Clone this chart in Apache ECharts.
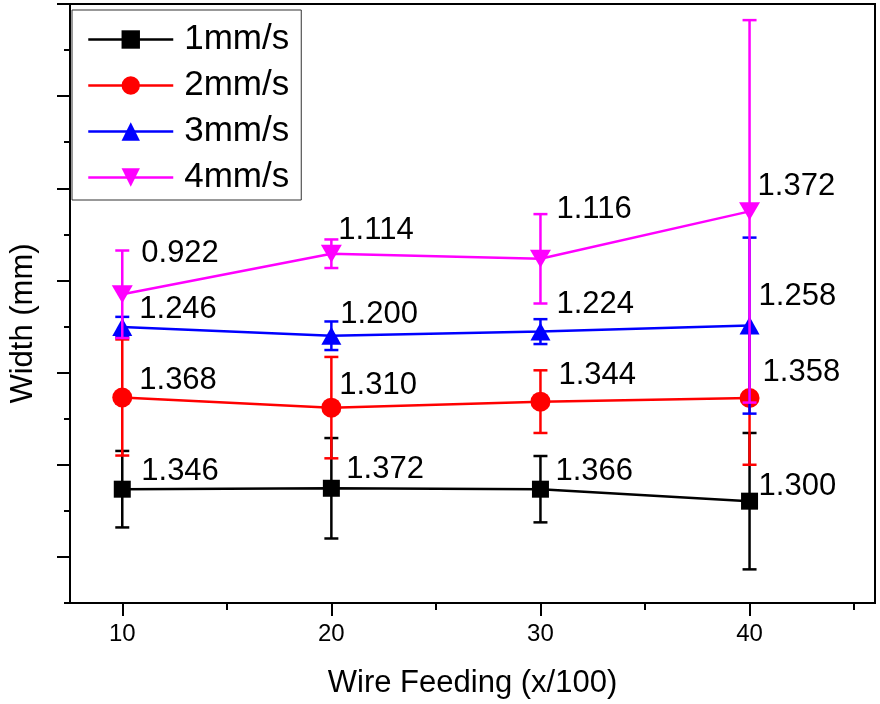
<!DOCTYPE html>
<html><head><meta charset="utf-8">
<script src="https://cdn.jsdelivr.net/npm/echarts@6/dist/echarts.min.js"></script>
<style>html,body{margin:0;padding:0;background:#fff}#c{width:880px;height:704px}</style>
</head><body><div id="c"></div>
<script>
// x categories (wire feeding, x/100)
const feeding = [10, 20, 30, 40];
const seriesNames = ['1mm/s', '2mm/s', '3mm/s', '4mm/s'];
// y values in axis units (the y axis carries no printed scale; 1 unit = one minor tick)
const width1 = [2.47, 2.49, 2.47, 2.21];
const err1   = [0.83, 1.09, 0.72, 1.48];
const width2 = [4.46, 4.24, 4.37, 4.45];
const err2   = [1.26, 1.10, 0.68, 1.45];
const width3 = [5.99, 5.80, 5.89, 6.02];
const err3   = [0.22, 0.31, 0.27, 1.91];
const width4 = [6.70, 7.58, 7.47, 8.50];
const err4   = [0.95, 0.31, 0.97, 4.15];
// annotation texts printed next to each point
const labels1 = ['1.346', '1.372', '1.366', '1.300'];
const labels2 = ['1.368', '1.310', '1.344', '1.358'];
const labels3 = ['1.246', '1.200', '1.224', '1.258'];
const labels4 = ['0.922', '1.114', '1.116', '1.372'];
// tick values
const xTicks = [10, 20, 30, 40];
const xMinorTicks = [15, 25, 35, 45];
const yMajorTicks = [1, 3, 5, 7, 9, 11, 13];
const yMinorTicks = [0, 2, 4, 6, 8, 10, 12];

// label pixel offsets (style only)
const off1 = [[19, -18], [15, -19], [15, -18], [9, -15]];
const off2 = [[17, -17], [8, -22], [18, -26], [13, -26]];
const off3 = [[17, -18], [9, -21], [16, -27], [9, -29]];
const off4 = [[19, -41], [7, -23], [16, -49], [8, -25]];

const FONT = "'Liberation Sans', Arial, sans-serif";

function lineSeries(name, color, ys, labels, offs, symbol, size, rotate, z) {
  return {
    type: 'line', name: name, z: z,
    data: feeding.map((x, i) => ({ value: [x, ys[i]], label: { offset: offs[i] } })),
    symbol: symbol, symbolSize: size, symbolRotate: rotate,
    itemStyle: { color: color }, lineStyle: { color: color, width: 2.5 },
    label: {
      show: true, position: 'inside', align: 'left', verticalAlign: 'middle',
      fontSize: 31, fontFamily: FONT, color: '#000',
      formatter: p => labels[p.dataIndex]
    },
    emphasis: { disabled: true },
    animation: false
  };
}

function errSeries(name, color, ys, es, z) {
  return {
    type: 'custom', name: name, z: z, silent: true, animation: false,
    data: feeding.map((x, i) => [x, ys[i] - es[i], ys[i] + es[i]]),
    encode: { x: 0, y: [1, 2] },
    renderItem: function (params, api) {
      const x = api.value(0);
      const lo = api.coord([x, api.value(1)]);
      const hi = api.coord([x, api.value(2)]);
      const hw = 7;
      const st = { stroke: color, lineWidth: 2.5 };
      return {
        type: 'group', children: [
          { type: 'line', shape: { x1: lo[0], y1: lo[1], x2: hi[0], y2: hi[1] }, style: st },
          { type: 'line', shape: { x1: lo[0] - hw, y1: lo[1], x2: lo[0] + hw, y2: lo[1] }, style: st },
          { type: 'line', shape: { x1: hi[0] - hw, y1: hi[1], x2: hi[0] + hw, y2: hi[1] }, style: st }
        ]
      };
    }
  };
}

const chart = echarts.init(document.getElementById('c'), null, { renderer: 'canvas' });
chart.setOption({
  backgroundColor: '#fff',
  animation: false,
  textStyle: { fontFamily: FONT },
  grid: { left: 66, right: 5, top: 4, bottom: 101, show: true, borderColor: '#000', borderWidth: 2, backgroundColor: 'transparent' },
  legend: {
    left: 72, top: 10, orient: 'vertical',
    itemWidth: 85, itemHeight: 23, itemGap: 11,
    padding: [12, 12, 5, 15],
    borderColor: '#333', borderWidth: 1, backgroundColor: '#fff',
    lineStyle: { width: 2.5 },
    textStyle: { fontSize: 35, fontFamily: FONT, color: '#000', padding: [0, 0, 0, 6] },
    data: seriesNames,
    selectedMode: false
  },
  xAxis: [
    {
      type: 'value', min: 7.5, max: 46,
      axisLine: { show: true, lineStyle: { color: '#000', width: 2 } },
      axisTick: { show: true, customValues: xTicks, length: 13, lineStyle: { color: '#000', width: 2 } },
      axisLabel: { show: true, customValues: xTicks, fontSize: 24, fontFamily: FONT, color: '#000', margin: 19 },
      splitLine: { show: false },
      name: 'Wire Feeding (x/100)', nameLocation: 'middle', nameGap: 65,
      nameTextStyle: { fontSize: 31, fontFamily: FONT, color: '#000' }
    },
    {
      type: 'value', min: 7.5, max: 46, position: 'bottom', gridIndex: 0,
      axisLine: { show: false },
      axisTick: { show: true, customValues: xMinorTicks, length: 7, lineStyle: { color: '#000', width: 2 } },
      axisLabel: { show: false }, splitLine: { show: false }
    }
  ],
  yAxis: [
    {
      type: 'value', min: 0, max: 13,
      axisLine: { show: true, lineStyle: { color: '#000', width: 2 } },
      axisTick: { show: true, customValues: yMajorTicks, length: 13, lineStyle: { color: '#000', width: 2 } },
      axisLabel: { show: false }, splitLine: { show: false },
      name: 'Width (mm)', nameLocation: 'middle', nameGap: 31,
      nameTextStyle: { fontSize: 31, fontFamily: FONT, color: '#000', padding: [0, 40, 0, 0] }
    },
    {
      type: 'value', min: 0, max: 13, position: 'left', gridIndex: 0,
      axisLine: { show: false },
      axisTick: { show: true, customValues: yMinorTicks, length: 6, lineStyle: { color: '#000', width: 2 } },
      axisLabel: { show: false }, splitLine: { show: false }
    }
  ],
  series: [
    errSeries('e1', '#000000', width1, err1, 1),
    lineSeries(seriesNames[0], '#000000', width1, labels1, off1, 'rect', 17, 0, 2),
    errSeries('e2', '#ff0000', width2, err2, 3),
    lineSeries(seriesNames[1], '#ff0000', width2, labels2, off2, 'circle', 20, 0, 4),
    errSeries('e3', '#0000ff', width3, err3, 5),
    lineSeries(seriesNames[2], '#0000ff', width3, labels3, off3, 'triangle', [20, 18], 0, 6),
    errSeries('e4', '#ff00ff', width4, err4, 7),
    lineSeries(seriesNames[3], '#ff00ff', width4, labels4, off4, 'triangle', [21, 18], 180, 8)
  ]
});
</script>
</body></html>
